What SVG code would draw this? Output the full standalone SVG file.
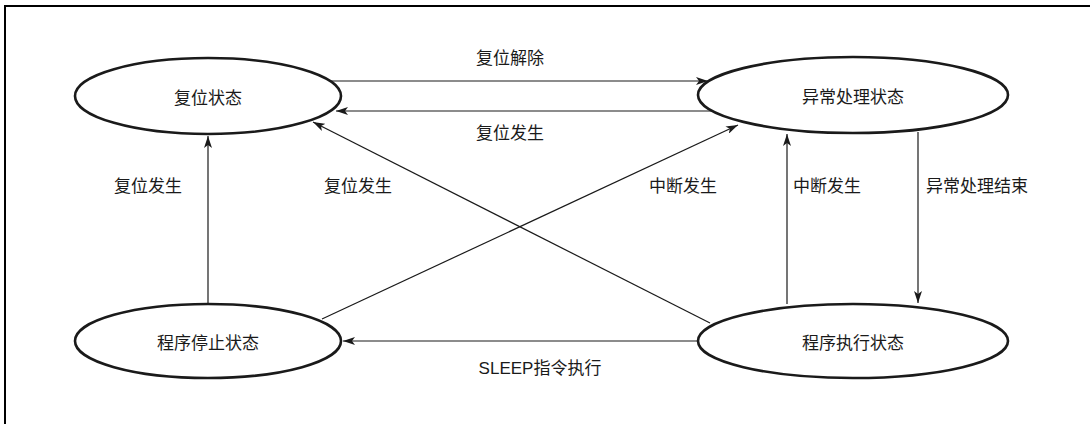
<svg xmlns="http://www.w3.org/2000/svg" width="1090" height="424" viewBox="0 0 1090 424">
<style>
.node ellipse{fill:#fff;stroke:#1a1a1a;stroke-width:2.6}
text{font-family:"Liberation Sans","Noto Sans CJK SC",sans-serif;font-size:17px;fill:#1a1a1a;text-anchor:middle;dominant-baseline:central}
.conn line{stroke:#1a1a1a;stroke-width:1.2;marker-end:url(#ah)}
</style>
<defs>
<marker id="ah" viewBox="0 0 12 8" refX="12" refY="4" markerWidth="12" markerHeight="8" markerUnits="userSpaceOnUse" orient="auto">
<path d="M0,0 L12,4 L0,8 L3,4 Z" fill="#1a1a1a"/>
</marker>
</defs>
<rect width="1090" height="424" fill="#fff"/>
<path d="M5,424 V6 H1090" fill="none" stroke="#000" stroke-width="2"/>
<g class="conn">
<line x1="327" y1="81" x2="708" y2="81"/>
<line x1="712" y1="111" x2="336" y2="111"/>
<line x1="208" y1="303" x2="208" y2="136"/>
<line x1="710" y1="323" x2="313" y2="122"/>
<line x1="322" y1="319" x2="738" y2="125"/>
<line x1="787" y1="304" x2="787" y2="134"/>
<line x1="918" y1="132" x2="918" y2="303"/>
<line x1="698" y1="341" x2="343" y2="341"/>
</g>
<g id="n-reset" class="node"><ellipse cx="208" cy="96" rx="133" ry="38"/><text x="208" y="98">复位状态</text></g>
<g id="n-exception" class="node"><ellipse cx="853" cy="95" rx="155" ry="38"/><text x="853" y="97">异常处理状态</text></g>
<g id="n-stop" class="node"><ellipse cx="208" cy="341" rx="133" ry="37"/><text x="208" y="343">程序停止状态</text></g>
<g id="n-exec" class="node"><ellipse cx="853" cy="341" rx="155" ry="37"/><text x="853" y="343">程序执行状态</text></g>
<g id="labels">
<text x="510" y="58">复位解除</text>
<text x="510" y="133">复位发生</text>
<text x="148" y="186">复位发生</text>
<text x="358" y="186">复位发生</text>
<text x="683" y="186">中断发生</text>
<text x="827" y="186">中断发生</text>
<text x="977" y="186">异常处理结束</text>
<text x="540" y="368">SLEEP指令执行</text>
</g>
</svg>
